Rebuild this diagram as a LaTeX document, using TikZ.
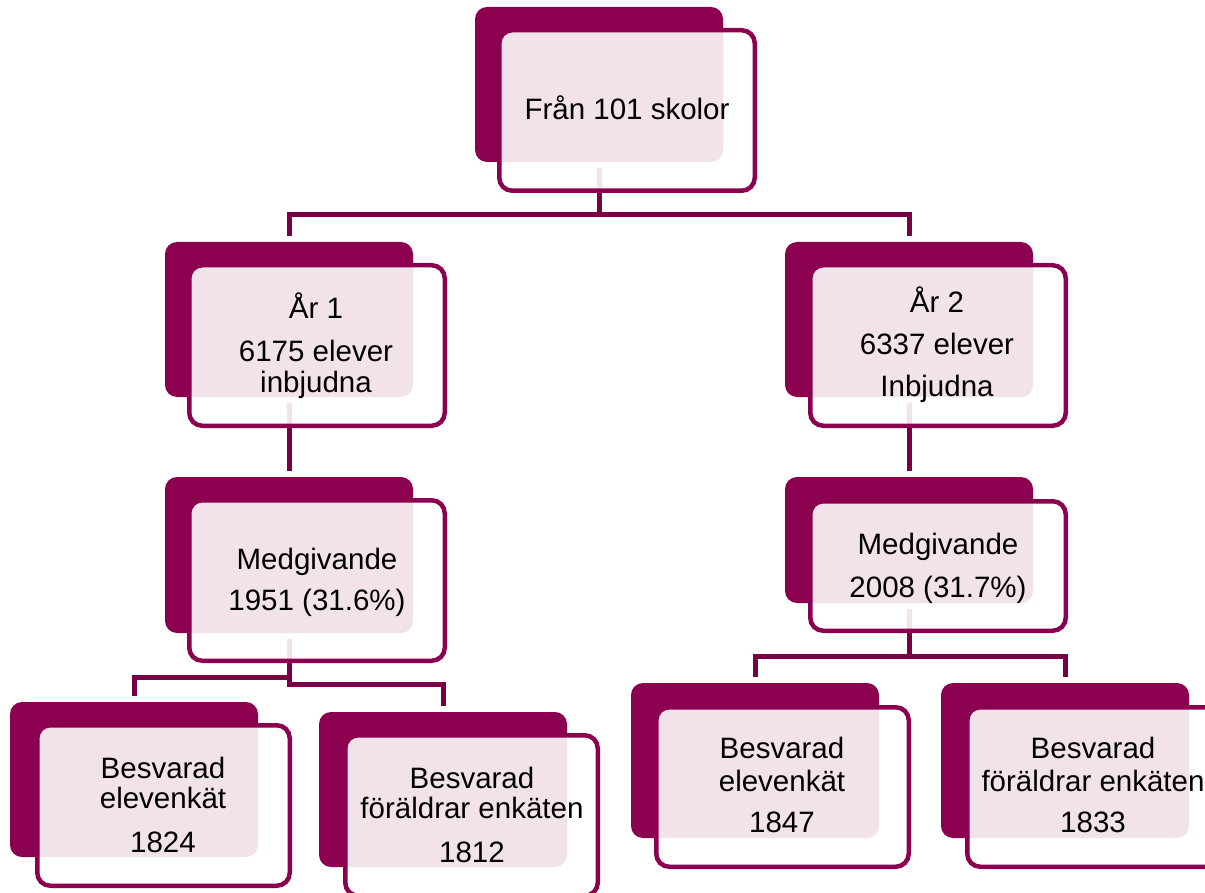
\documentclass[tikz,border=0pt]{standalone}
\usepackage{fontspec}
\setmainfont{Liberation Sans}
\usetikzlibrary{positioning}
\definecolor{mag}{HTML}{8B004F}
\definecolor{connc}{HTML}{7A0045}
\pgfdeclarelayer{bg}
\pgfsetlayers{bg,main}
\begin{document}
\begin{tikzpicture}[x=1pt,y=-1pt,
  darkbox/.style={fill=mag, rounded corners=12pt, minimum width=248pt, inner sep=0pt, outer sep=0pt, anchor=north west},
  frontbox/.style={draw=mag, line width=4.5pt, fill=white, fill opacity=0.89, draw opacity=1, rounded corners=13pt, minimum width=255.5pt, inner sep=0pt, anchor=north west},
  frontsmall/.style={frontbox, minimum width=252.5pt},
  conn/.style={draw=connc, line width=5pt},
  lbl/.style={anchor=base, inner sep=0pt, text=black, font=\fontsize{29.5}{35}\selectfont}]
\useasboundingbox (0,0) rectangle (1205,893);
% boxes
\node[darkbox, minimum height=155pt] (d0) at (475,7) {};
\node[frontbox, minimum height=160.5pt] (f0) at (497,28) {};
\node[darkbox, minimum height=155pt] (d1) at (165,242) {};
\node[frontbox, minimum height=160.5pt] (f1) at (187,263) {};
\node[darkbox, minimum height=155pt] (d2) at (785,242) {};
\node[frontbox, minimum height=160.5pt] (f2) at (808,263) {};
\node[darkbox, minimum height=156pt] (d3) at (165,477) {};
\node[frontbox, minimum height=160.5pt] (f3) at (187,498) {};
\node[darkbox, minimum height=126pt] (d4) at (785,477) {};
\node[frontbox, minimum height=129.5pt] (f4) at (808,499) {};
\node[darkbox, minimum height=155pt] (b1) at (10,702) {};
\node[frontsmall, minimum height=160.5pt] (g1) at (35,723) {};
\node[darkbox, minimum height=155pt] (b2) at (319,712) {};
\node[frontsmall, minimum height=160.5pt] (g2) at (343,733) {};
\node[darkbox, minimum height=155pt] (b3) at (631,683) {};
\node[frontsmall, minimum height=159.5pt] (g3) at (654,705) {};
\node[darkbox, minimum height=155pt] (b4) at (941,683) {};
\node[frontsmall, minimum height=159.5pt] (g4) at (965,705) {};
% bar levels
\coordinate (bar0) at (0,215);
\coordinate (barL1) at (0,677);
\coordinate (barL2) at (0,684);
\coordinate (barR) at (0,656);
% connectors
\begin{pgfonlayer}{bg}
\draw[conn] ([yshift=-6pt]d0.south) -- (d0.south |- bar0);
\draw[conn] ([yshift=6pt]d1.north) |- (d0.south |- bar0) -| ([yshift=6pt]d2.north);
\draw[conn] ([yshift=-6pt]d1.south) -- ([yshift=6pt]d3.north);
\draw[conn] ([yshift=-6pt]d2.south) -- ([yshift=6pt]d4.north);
\draw[conn] ([yshift=-6pt]d3.south) -- (d3.south |- barL2) -| ([yshift=6pt]b2.north);
\draw[conn] ([yshift=6pt]b1.north) |- (d3.south |- barL1);
\draw[conn] ([yshift=-6pt]d4.south) -- (d4.south |- barR);
\draw[conn] ([yshift=6pt]b3.north) |- (d4.south |- barR) -| ([yshift=6pt]b4.north);
\end{pgfonlayer}
% texts
\node[lbl] (t0) at (627,120) {Från 101 skolor};
\node[lbl] (t1a) at (316,319) {År 1};
\node[lbl] (t1b) at (316,361) {6175 elever};
\node[lbl] (t1c) at (316,392) {inbjudna};
\node[lbl] (t2a) at (937,313) {År 2};
\node[lbl] (t2b) at (937,355) {6337 elever};
\node[lbl] (t2c) at (937,396) {Inbjudna};
\node[lbl] (t3a) at (317,569) {Medgivande};
\node[lbl] (t3b) at (317,610) {1951 (31.6\%)};
\node[lbl] (t4a) at (938,554) {Medgivande};
\node[lbl] (t4b) at (938,597) {2008 (31.7\%)};
\node[lbl] (u1a) at (163,778) {Besvarad};
\node[lbl] (u1b) at (163,808) {elevenkät};
\node[lbl] (u1c) at (163,852) {1824};
\node[lbl] (u2a) at (472,788) {Besvarad};
\node[lbl] (u2b) at (472,818) {föräldrar enkäten};
\node[lbl] (u2c) at (472,862) {1812};
\node[lbl] (u3a) at (782,758) {Besvarad};
\node[lbl] (u3b) at (782,791) {elevenkät};
\node[lbl] (u3c) at (782,832) {1847};
\node[lbl] (u4a) at (1093,758) {Besvarad};
\node[lbl] (u4b) at (1093,791) {föräldrar enkäten};
\node[lbl] (u4c) at (1093,832) {1833};
\end{tikzpicture}
\end{document}
